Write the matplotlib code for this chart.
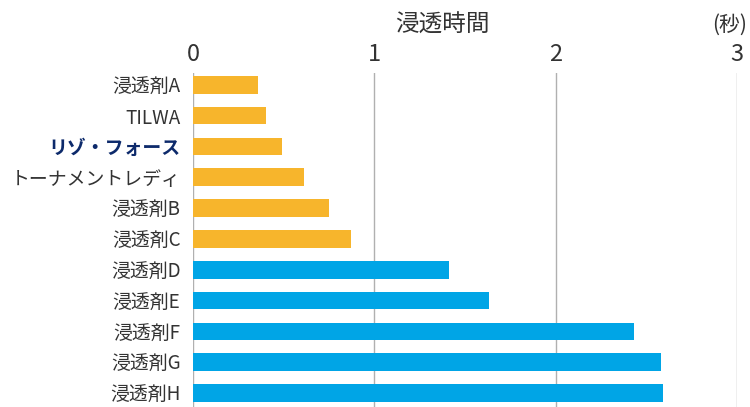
import numpy as np
import matplotlib
matplotlib.use("Agg")
import matplotlib.pyplot as plt

plt.rcParams['font.family'] = ['Noto Sans CJK JP', 'DejaVu Sans']

labels = ["浸透剤A", "TILWA", "リゾ・フォース", "トーナメントレディ", "浸透剤B", "浸透剤C",
          "浸透剤D", "浸透剤E", "浸透剤F", "浸透剤G", "浸透剤H"]
times = [0.36, 0.40, 0.49, 0.61, 0.75, 0.87, 1.41, 1.63, 2.43, 2.58, 2.59]
groups = ["orange"] * 6 + ["blue"] * 5
ticks = [0, 1, 2, 3]

COLORS = {"orange": "#f7b52c", "blue": "#00a5e6"}
TEXT = "#333333"
NAVY = "#0d2a6b"

fig = plt.figure(figsize=(7.5, 4.07), dpi=100)
ax = fig.add_axes([193 / 750, 0, (737 - 193) / 750, (407 - 73) / 407])

y = np.arange(len(labels))
ax.barh(y, times, height=0.57, color=[COLORS[g] for g in groups], zorder=3)

ax.set_xlim(0, 3)
ax.set_ylim(len(labels) - 1 + 0.45, -0.38)
ax.set_xticks(ticks)
ax.set_xticklabels([str(t) for t in ticks], fontsize=17, color=TEXT)
ax.xaxis.tick_top()
ax.tick_params(axis="x", length=0, pad=5)
ax.grid(axis="x", color="#b0b0b0", lw=1, zorder=0)
ax.set_yticks(y)
ax.set_yticklabels(labels, fontsize=13.6, color=TEXT)
ax.tick_params(axis="y", length=0, pad=9)
for lab in ax.get_yticklabels():
    if lab.get_text() == "リゾ・フォース":
        lab.set_color(NAVY)
        lab.set_fontweight("bold")
for s in ax.spines.values():
    s.set_visible(False)

fig.text(442 / 750, 1 - 25 / 407, "浸透時間", ha="center", va="center", fontsize=17, color=TEXT)
fig.text(730 / 750, 1 - 25 / 407, "(秒)", ha="center", va="center", fontsize=15, color=TEXT)

fig.savefig("out.png", dpi=100)
